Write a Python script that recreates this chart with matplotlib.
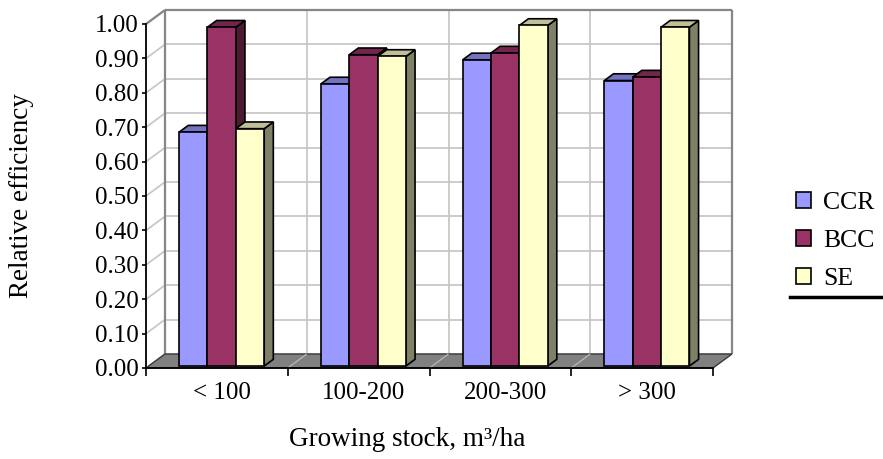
import numpy as np
import matplotlib
matplotlib.use("Agg")
import matplotlib.pyplot as plt
from matplotlib.lines import Line2D

# Relative efficiency by growing stock class
CATEGORIES = ["< 100", "100-200", "200-300", "> 300"]
SERIES = ["CCR", "BCC", "SE"]
CCR = [0.68, 0.82, 0.89, 0.83]
BCC = [0.985, 0.905, 0.91, 0.84]
SE = [0.69, 0.90, 0.99, 0.985]
Y_TICKS = np.round(np.arange(0.0, 1.01, 0.1), 2)

# front, top and side shades for each series (Excel 3-D look)
FRONT = ["#9999FF", "#993366", "#FFFFCC"]
TOP = ["#7373BF", "#73264C", "#BFBF99"]
SIDE = ["#4D4D80", "#4D1A33", "#808066"]

plt.rcParams.update({
    "font.family": ["Liberation Serif", "DejaVu Serif"],
    "font.size": 18,
})

W, H = 883, 459
fig = plt.figure(figsize=(W / 100, H / 100), dpi=100)
fig.patch.set_facecolor("white")

# axes = front plane of the 3-D box
L, R, B, T = 146, 713, 368, 24
ax = fig.add_axes([L / W, (H - B) / H, (R - L) / W, (B - T) / H])
ax.set_xlim(0, 4)
ax.set_ylim(0, 1)
ax.patch.set_visible(False)

# depth offset of the back wall in data units (19 px right, 14 px up)
DX = 19 / ((R - L) / 4)
DY = 14 / (B - T)


def proj(x, y, t):
    return x + t * DX, y + t * DY


def face(pts, **kw):
    xs, ys = zip(*[proj(*p) for p in pts])
    return ax.fill(xs, ys, clip_on=False, **kw)


def seg(p, q, **kw):
    (x0, y0), (x1, y1) = proj(*p), proj(*q)
    ax.plot([x0, x1], [y0, y1], clip_on=False, solid_capstyle="butt", **kw)


# walls
face([(0, 0, 1), (4, 0, 1), (4, 1, 1), (0, 1, 1)], color="white", zorder=0.2)
face([(0, 0, 0), (0, 0, 1), (0, 1, 1), (0, 1, 0)], color="white", zorder=0.2)
grid_kw = dict(color="#c8c8c8", lw=1.3, zorder=0.4)
for v in Y_TICKS:
    seg((0, v, 1), (4, v, 1), **grid_kw)
    seg((0, v, 0), (0, v, 1), **grid_kw)
for x in range(1, 4):
    seg((x, 0, 1), (x, 1, 1), **grid_kw)
edge_kw = dict(color="#868686", lw=1.6, zorder=0.6)
seg((0, 1, 1), (4, 1, 1), **edge_kw)
seg((4, 0, 1), (4, 1, 1), **edge_kw)
seg((0, 0, 1), (0, 1, 1), **edge_kw)
seg((0, 1, 0), (0, 1, 1), **edge_kw)

# floor
face([(0, 0, 0), (4, 0, 0), (4, 0, 1), (0, 0, 1)],
     facecolor="#808080", edgecolor="#3a3a3a", lw=1.0, zorder=1)
for x in range(1, 4):
    seg((x, 0, 0), (x, 0, 1), color="#b4b4b4", lw=1.0, zorder=1.1)

# bars
T0, T1 = 0.14, 0.62
BW = 0.2
for j, (name, vals) in enumerate(zip(SERIES, [CCR, BCC, SE])):
    x0 = np.arange(len(CATEGORIES)) + 0.215 + j * BW
    z = 3 + j
    for xs, v in zip(x0, vals):
        face([(xs + BW, 0, T0), (xs + BW, 0, T1), (xs + BW, v, T1), (xs + BW, v, T0)],
             facecolor=SIDE[j], edgecolor="black", lw=1.2, zorder=z)
        face([(xs, v, T0), (xs + BW, v, T0), (xs + BW, v, T1), (xs, v, T1)],
             facecolor=TOP[j], edgecolor="black", lw=1.2, zorder=z + 0.1)
    ax.bar(x0 + T0 * DX, vals, width=BW, bottom=T0 * DY, align="edge",
           color=FRONT[j], edgecolor="black", lw=1.2, zorder=z + 0.2,
           label=name, clip_on=False)

# axes, ticks and labels
for s in ["top", "right"]:
    ax.spines[s].set_visible(False)
for s in ["left", "bottom"]:
    ax.spines[s].set_color("black")
    ax.spines[s].set_linewidth(1.3)
    ax.spines[s].set_zorder(10)

ax.set_yticks(Y_TICKS)
ax.set_yticklabels([f"{v:.2f}" for v in Y_TICKS])
ax.tick_params(axis="y", direction="out", length=3, width=1.2, pad=2,
               labelsize=18)

ax.set_xticks(range(len(CATEGORIES) + 1))
ax.set_xticklabels([])
ax.tick_params(axis="x", which="major", direction="out", length=5.5, width=1.2)
ax.set_xticks(np.arange(len(CATEGORIES)) + 0.515 + T0 * DX, minor=True)
ax.set_xticklabels(CATEGORIES, minor=True)
ax.tick_params(axis="x", which="minor", length=0, pad=10, labelsize=18)

fig.text(22 / W, 1 - 196 / H, "Relative efficiency", rotation=90,
         ha="center", va="center", fontsize=19.5)
fig.text(407 / W, 1 - 440 / H, "Growing stock, m³/ha",
         ha="center", va="center", fontsize=19.5)

fig.legend(loc="center left", bbox_to_anchor=(796 / W, 1 - 241 / H),
           frameon=False, fontsize=18.5, handlelength=0.6, handleheight=0.6,
           handletextpad=0.45, labelspacing=0.62, borderpad=0,
           borderaxespad=0)
fig.add_artist(Line2D([790 / W, 1.0], [1 - 297 / H] * 2, color="black",
                      lw=2.5, transform=fig.transFigure))

fig.savefig("out.png", dpi=100)
